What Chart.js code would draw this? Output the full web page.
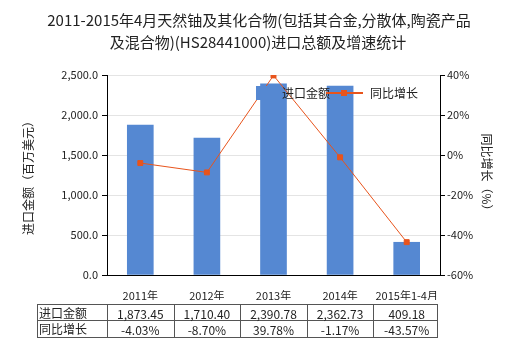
<!DOCTYPE html>
<html>
<head>
<meta charset="utf-8">
<script src="https://cdn.jsdelivr.net/npm/chart.js@4"></script>
<style>
  body { margin: 0; background: #fff; }
  #wrap { width: 520px; height: 350px; }
</style>
</head>
<body>
<div id="wrap"><canvas id="c" width="520" height="350"></canvas></div>
<script>
const categories = ["2011年", "2012年", "2013年", "2014年", "2015年1-4月"];
const importValues = [1873.45, 1710.40, 2390.78, 2362.73, 409.18];
const growthValues = [-4.03, -8.70, 39.78, -1.17, -43.57];
const importLabels = ["1,873.45", "1,710.40", "2,390.78", "2,362.73", "409.18"];
const growthLabels = ["-4.03%", "-8.70%", "39.78%", "-1.17%", "-43.57%"];

const FONT = '"Microsoft YaHei", "Noto Sans CJK SC", sans-serif';
const BAR_COLOR = "#5588d2";
const LINE_COLOR = "#e8541c";

// title, legend and the data table under the axis
const extras = {
  id: "extras",
  afterDraw(chart) {
    const ctx = chart.ctx;
    const x = chart.scales.x;
    ctx.save();

    // title
    ctx.fillStyle = "#222";
    ctx.font = "15px " + FONT;
    ctx.textAlign = "center";
    ctx.textBaseline = "middle";
    ctx.fillText("2011-2015年4月天然铀及其化合物(包括其合金,分散体,陶瓷产品", 259, 20);
    ctx.fillText("及混合物)(HS28441000)进口总额及增速统计", 258, 42);

    // legend
    ctx.fillStyle = BAR_COLOR;
    ctx.fillRect(256, 86, 14, 14);
    ctx.fillStyle = "#222";
    ctx.font = "12px " + FONT;
    ctx.textAlign = "left";
    ctx.fillText("进口金额", 282, 93);
    ctx.strokeStyle = LINE_COLOR;
    ctx.lineWidth = 2;
    ctx.beginPath();
    ctx.moveTo(326, 93);
    ctx.lineTo(363, 93);
    ctx.stroke();
    ctx.fillStyle = LINE_COLOR;
    ctx.fillRect(341, 90, 6, 6);
    ctx.fillStyle = "#222";
    ctx.fillText("同比增长", 370, 93);

    // data table
    const top = 304, mid = 320, bottom = 337;
    const left = 37;
    const right = chart.chartArea.right - 3;
    ctx.strokeStyle = "#555";
    ctx.lineWidth = 1;
    ctx.beginPath();
    [top, mid, bottom].forEach(y => {
      ctx.moveTo(left, y + 0.5);
      ctx.lineTo(right, y + 0.5);
    });
    const edges = [left, chart.chartArea.left];
    categories.forEach((c, i) => {
      edges.push(Math.round(x.getPixelForValue(i) + (x.getPixelForValue(1) - x.getPixelForValue(0)) / 2));
    });
    edges[edges.length - 1] = right;
    edges.forEach(e => {
      ctx.moveTo(e + 0.5, top);
      ctx.lineTo(e + 0.5, bottom + 1);
    });
    ctx.stroke();

    ctx.fillStyle = "#222";
    ctx.font = "12px " + FONT;
    ctx.textAlign = "left";
    ctx.fillText("进口金额", left + 2, (top + mid) / 2 + 1);
    ctx.fillText("同比增长", left + 2, (mid + bottom) / 2 + 1);
    ctx.font = "12px " + FONT;
    ctx.textAlign = "center";
    categories.forEach((c, i) => {
      const cx = x.getPixelForValue(i);
      ctx.fillText(importLabels[i], cx, (top + mid) / 2 + 2);
      ctx.fillText(growthLabels[i], cx, (mid + bottom) / 2 + 2);
    });
    ctx.restore();
  }
};

new Chart(document.getElementById("c"), {
  data: {
    labels: categories,
    datasets: [
      {
        type: "line",
        label: "同比增长",
        data: growthValues,
        yAxisID: "y1",
        borderColor: LINE_COLOR,
        backgroundColor: LINE_COLOR,
        borderWidth: 1,
        pointStyle: "rect",
        pointRadius: 3.5,
        pointHoverRadius: 3.5,
        tension: 0,
        order: 0
      },
      {
        type: "bar",
        label: "进口金额",
        data: importValues,
        yAxisID: "y",
        backgroundColor: BAR_COLOR,
        barThickness: 26,
        order: 1
      }
    ]
  },
  options: {
    responsive: false,
    animation: false,
    layout: { padding: { left: 0, right: 0, top: 75, bottom: 50 } },
    plugins: { legend: { display: false }, tooltip: { enabled: false } },
    scales: {
      x: {
        grid: { display: false },
        border: { display: true, color: "#000" },
        ticks: { color: "#222", font: { size: 11, family: FONT }, padding: 6, maxRotation: 0 },
        afterFit: s => { s.height = 25; }
      },
      y: {
        position: "left",
        min: 0,
        max: 2500,
        ticks: {
          stepSize: 500,
          color: "#222",
          font: { size: 11, family: FONT },
          padding: 4,
          callback: v => v.toLocaleString("en-US", { minimumFractionDigits: 1, maximumFractionDigits: 1 })
        },
        grid: { color: "#e4e4e4", tickLength: 5, tickColor: "#000" },
        border: { color: "#000" },
        title: { display: true, text: "进口金额（百万美元）", color: "#222", font: { size: 12, family: FONT }, padding: { top: 21, bottom: 0 } },
        afterFit: s => { s.width = 107; }
      },
      y1: {
        position: "right",
        min: -60,
        max: 40,
        ticks: {
          stepSize: 20,
          color: "#222",
          font: { size: 11, family: FONT },
          padding: 2,
          callback: v => v + "%"
        },
        grid: { drawOnChartArea: false, tickLength: 5, tickColor: "#000" },
        border: { color: "#000" },
        title: { display: true, text: "同比增长（%）", color: "#222", font: { size: 12, family: FONT }, padding: { top: 26, bottom: 0 } },
        afterFit: s => { s.width = 80; }
      }
    }
  },
  plugins: [extras]
});
</script>
</body>
</html>
